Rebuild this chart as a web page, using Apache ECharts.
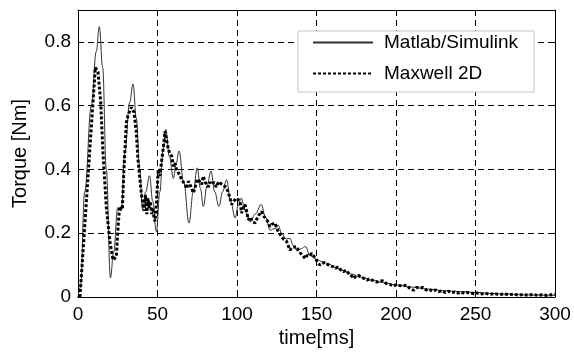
<!DOCTYPE html>
<html><head><meta charset="utf-8">
<script src="https://cdn.jsdelivr.net/npm/echarts@6/dist/echarts.min.js"></script>
<style>html,body{margin:0;padding:0;background:#fff}#c{width:574px;height:356px}</style>
</head><body><div id="c"></div>
<script>
const xTicks = [0, 50, 100, 150, 200, 250, 300];
const yTicks = [0, 0.2, 0.4, 0.6, 0.8];
const seriesNames = ['Matlab/Simulink', 'Maxwell 2D'];
const axisNames = ['time[ms]', 'Torque [Nm]'];

const simTime = [0,1.5,4.2,8.4,11.5,13.4,15.5,17.8,20.4,22.4,25,27.2,29.4,32.5,34.6,36.7,38.8,40.6,42.6,45,47,49.3,51.5,53.5,55.2,57.5,60,61.8,63.5,66.5,69.8,72.5,75,77,78.8,81.2,83.6,86,88.6,91,93.4,96,98.8,100.7,102.6,105.2,108.2,111.5,115.2,118,120.8,124,126,128,131,133.3,135.5,137.8,140.5,143,146,150,154,157,162,167,172,178,185,192,200,210,220,230,240,250,260,270,280,290,300];
const simTorque = [0,0.03,0.33,0.6,0.77,0.848,0.72,0.40,0.06,0.14,0.28,0.27,0.45,0.61,0.668,0.56,0.40,0.275,0.33,0.38,0.30,0.205,0.33,0.46,0.526,0.44,0.372,0.42,0.458,0.36,0.232,0.33,0.405,0.34,0.284,0.35,0.395,0.33,0.284,0.33,0.368,0.3,0.248,0.285,0.31,0.27,0.235,0.26,0.29,0.25,0.21,0.215,0.225,0.2,0.182,0.184,0.16,0.145,0.152,0.158,0.13,0.118,0.11,0.105,0.092,0.082,0.072,0.062,0.053,0.045,0.038,0.031,0.025,0.02,0.017,0.014,0.011,0.009,0.007,0.006,0.005];

const maxwellTime = [1.2,3.1,5.2,7.3,9.4,10.9,12,12.6,14.3,15.7,17.8,19.9,22,22.8,24.1,25.2,26.2,27.9,28.9,30.4,31.4,33.5,35.2,36.7,37.7,39.8,41.5,42.5,43.3,44,44.8,45.5,46.3,47,47.8,48.4,49.3,50.5,51.5,52.6,53.7,54.7,55.8,56.8,57.8,58.9,60,61,62,63.1,64.2,65.2,66.3,67.3,68.4,69.4,70.4,71.5,72.5,73.5,74.6,75.6,76.7,77.8,78.8,80,81,82,83,84.1,85.5,87,88.5,90,91.5,93.5,94.6,95.6,96.7,97.8,98.7,99.7,100.8,101.9,102.9,104,105,106,107.1,108.5,109.5,111.3,112.5,113.5,114.5,115.5,116.5,117.6,119,120.8,122,123.9,125,126,127,128,129.5,131.2,132.3,133.3,134.5,135.5,137.5,138.5,140,141.5,142.8,144,145.5,147,148,149.5,150.5,152.2,153.5,155,156.4,158,160.6,162,163.5,165,166.9,168.5,170,171.5,173.2,175,176.3,178,180,181.6,183.5,186,187.9,190,192,194,196,198.3,200,202,204.5,206.7,208.5,210.9,213,215,217,219,221,223,225,227,229,231,233,235,237,239,241,243,245,247,249,251,253,256,259,262,265,268,271,274,277,280,283,286,289,292,295,298,300];
const maxwellTorque = [0,0.137,0.295,0.453,0.61,0.72,0.718,0.705,0.61,0.453,0.284,0.179,0.116,0.11,0.126,0.221,0.284,0.274,0.4,0.547,0.568,0.595,0.58,0.516,0.432,0.326,0.27,0.32,0.26,0.31,0.28,0.3,0.26,0.28,0.25,0.237,0.29,0.40,0.38,0.426,0.47,0.52,0.49,0.463,0.45,0.442,0.41,0.42,0.40,0.405,0.38,0.368,0.36,0.353,0.34,0.363,0.358,0.34,0.326,0.34,0.363,0.37,0.36,0.353,0.379,0.36,0.358,0.345,0.36,0.353,0.36,0.345,0.362,0.355,0.35,0.343,0.326,0.31,0.29,0.3,0.296,0.31,0.305,0.3,0.263,0.28,0.29,0.27,0.242,0.25,0.237,0.232,0.245,0.255,0.26,0.268,0.255,0.253,0.24,0.221,0.228,0.232,0.215,0.205,0.2,0.19,0.18,0.174,0.16,0.147,0.155,0.15,0.158,0.148,0.137,0.13,0.121,0.13,0.128,0.137,0.135,0.12,0.11,0.10,0.105,0.108,0.105,0.098,0.095,0.09,0.094,0.086,0.079,0.084,0.075,0.07,0.058,0.066,0.068,0.062,0.058,0.053,0.057,0.05,0.047,0.051,0.05,0.042,0.04,0.034,0.038,0.036,0.035,0.037,0.028,0.021,0.03,0.028,0.03,0.022,0.024,0.018,0.022,0.017,0.02,0.014,0.018,0.013,0.016,0.012,0.015,0.011,0.014,0.013,0.01,0.013,0.009,0.012,0.008,0.011,0.007,0.01,0.007,0.009,0.006,0.008,0.005,0.008,0.005,0.007,0.005,0.007,0.008];

const FONT = 'Liberation Sans, Arial, sans-serif';
const pair = (xs, ys) => xs.map((x, i) => [x, ys[i]]);

const chart = echarts.init(document.getElementById('c'), null, {renderer: 'canvas'});
const tickStyle = {inside: true, length: 5, lineStyle: {color: '#000', width: 1}};
const lineStyleAxis = {show: true, onZero: false, lineStyle: {color: '#000', width: 1}};
const gridDash = {show: true, lineStyle: {color: '#000', width: 1, type: [6, 4]}};

chart.setOption({
  animation: false,
  backgroundColor: '#fff',
  grid: {left: 78, right: 19, top: 10, bottom: 59, containLabel: false},
  legend: {
    orient: 'vertical', left: 298, top: 31,
    padding: [2, 16, 9, 14], itemGap: 12, itemWidth: 60, itemHeight: 14,
    backgroundColor: '#fff', borderColor: '#c8c8c8', borderWidth: 1,
    itemStyle: {opacity: 0, borderWidth: 0},
    textStyle: {fontFamily: FONT, fontSize: 19, color: '#000', padding: [0, 0, 0, 6]},
    data: seriesNames
  },
  xAxis: [{
    type: 'value', min: xTicks[0], max: xTicks[xTicks.length - 1], interval: xTicks[1] - xTicks[0],
    position: 'bottom', axisLine: lineStyleAxis, axisTick: tickStyle,
    axisLabel: {color: '#000', fontSize: 19, fontFamily: FONT, margin: 8},
    splitLine: gridDash,
    name: axisNames[0], nameLocation: 'middle', nameGap: 31,
    nameTextStyle: {color: '#000', fontSize: 20, fontFamily: FONT}
  }, {
    type: 'value', min: xTicks[0], max: xTicks[xTicks.length - 1], interval: xTicks[1] - xTicks[0],
    position: 'top', axisLine: lineStyleAxis, axisTick: tickStyle,
    axisLabel: {show: false}, splitLine: {show: false}
  }],
  yAxis: [{
    type: 'value', min: yTicks[0], max: 0.9, interval: yTicks[1] - yTicks[0],
    position: 'left', axisLine: lineStyleAxis, axisTick: tickStyle,
    axisLabel: {color: '#000', fontSize: 19, fontFamily: FONT, margin: 7, showMaxLabel: false},
    splitLine: gridDash,
    name: axisNames[1], nameLocation: 'middle', nameGap: 48,
    nameTextStyle: {color: '#000', fontSize: 20, fontFamily: FONT}
  }, {
    type: 'value', min: yTicks[0], max: 0.9, interval: yTicks[1] - yTicks[0],
    position: 'right', axisLine: lineStyleAxis, axisTick: tickStyle,
    axisLabel: {show: false}, splitLine: {show: false}
  }],
  series: [{
    name: seriesNames[0], type: 'line', xAxisIndex: 0, yAxisIndex: 0,
    data: pair(simTime, simTorque), showSymbol: false, symbol: 'none',
    smooth: 0.4, smoothMonotone: 'x',
    lineStyle: {color: '#333', width: 1}, itemStyle: {color: '#333'}, z: 3
  }, {
    name: seriesNames[1], type: 'line', xAxisIndex: 0, yAxisIndex: 0,
    data: pair(maxwellTime, maxwellTorque), showSymbol: false, symbol: 'none',
    lineStyle: {color: '#000', width: 3, type: [3, 2]}, itemStyle: {color: '#000'}, z: 4
  }]
});
</script>
</body></html>
